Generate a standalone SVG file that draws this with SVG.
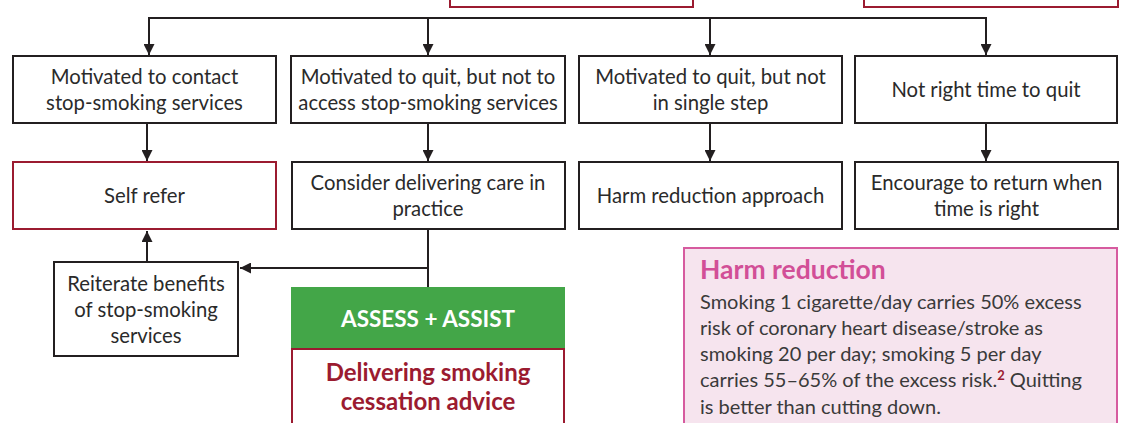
<svg xmlns="http://www.w3.org/2000/svg" width="1125" height="423" viewBox="0 0 1125 423">
<defs>
<marker id="ah" viewBox="0 0 10 10" refX="10" refY="5" markerWidth="11" markerHeight="11" markerUnits="userSpaceOnUse" orient="auto">
<path d="M0,0 L10,5 L0,10 z" fill="#231f20"/>
</marker>
<style>
.box{fill:#fff;stroke:#231f20;stroke-width:2}
.rbox{fill:#fff;stroke:#9b1b30;stroke-width:2}
.t{font-family:Lato,"Open Sans","Liberation Sans",sans-serif;font-size:20.3px;fill:#2a2a2a;text-anchor:middle}
.ln{fill:none;stroke:#231f20;stroke-width:2}
.ar{fill:none;stroke:#231f20;stroke-width:2;marker-end:url(#ah)}
.hb{font-family:Lato,"Open Sans","Liberation Sans",sans-serif;font-size:20px;fill:#3a3a3a}
.bf{font-family:Lato,"Open Sans","Liberation Sans",sans-serif;font-weight:bold;text-anchor:middle}
</style>
</defs>
<rect width="1125" height="423" fill="#fff"/>
<g id="top-left"><rect class="rbox" x="450" y="-20" width="243" height="27"/></g>
<g id="top-right"><rect class="rbox" x="864" y="-20" width="254" height="27"/></g>
<g id="connectors">
<path class="ln" d="M149,18 H986"/>
<path class="ar" d="M149,17 V55"/>
<path class="ar" d="M428,18 V55"/>
<path class="ar" d="M710,18 V55"/>
<path class="ar" d="M986,17 V55"/>
<path class="ar" d="M147,123 V161"/>
<path class="ar" d="M428,123 V161"/>
<path class="ar" d="M710,123 V161"/>
<path class="ar" d="M986,123 V161"/>
<path class="ln" d="M428,229 V287"/>
<path class="ar" d="M428,268 H240"/>
<path class="ar" d="M147,262 V231"/>
</g>
<g id="n1"><rect class="box" x="13" y="56" width="263" height="67"/><text class="t" x="144.5" y="84">Motivated to contact</text><text class="t" x="144.5" y="110">stop-smoking services</text></g>
<g id="n2"><rect class="box" x="291" y="56" width="274" height="67"/><text class="t" x="428" y="84">Motivated to quit, but not to</text><text class="t" x="428" y="110">access stop-smoking services</text></g>
<g id="n3"><rect class="box" x="579" y="56" width="263" height="67"/><text class="t" x="710.5" y="84">Motivated to quit, but not</text><text class="t" x="710.5" y="110">in single step</text></g>
<g id="n4"><rect class="box" x="855" y="56" width="262" height="67"/><text class="t" x="986" y="97">Not right time to quit</text></g>
<g id="n5"><rect class="rbox" x="13" y="162" width="263" height="67"/><text class="t" x="144.5" y="203">Self refer</text></g>
<g id="n6"><rect class="box" x="292" y="162" width="273" height="67"/><text class="t" x="428" y="190">Consider delivering care in</text><text class="t" x="428" y="216">practice</text></g>
<g id="n7"><rect class="box" x="579" y="162" width="263" height="67"/><text class="t" x="710.5" y="203">Harm reduction approach</text></g>
<g id="n8"><rect class="box" x="855" y="162" width="263" height="67"/><text class="t" x="986.5" y="190">Encourage to return when</text><text class="t" x="986.5" y="216">time is right</text></g>
<g id="n9"><rect class="box" x="54" y="262" width="184" height="94"/><text class="t" x="146" y="291">Reiterate benefits</text><text class="t" x="146" y="317">of stop-smoking</text><text class="t" x="146" y="343">services</text></g>
<g id="n10">
<rect x="291" y="287" width="274" height="62" fill="#43a648"/>
<text class="bf" x="428" y="327" font-size="22.5" fill="#fff">ASSESS + ASSIST</text>
<rect class="rbox" x="292" y="349" width="272" height="90"/>
<text class="bf" x="428" y="381" font-size="24" fill="#9b1b30">Delivering smoking</text>
<text class="bf" x="428" y="410" font-size="24" fill="#9b1b30">cessation advice</text>
</g>
<g id="harm">
<rect x="684" y="248" width="433" height="190" fill="#f6e4ee" stroke="#d65b9f" stroke-width="2"/>
<text x="700" y="279" font-family="Lato,'Open Sans','Liberation Sans',sans-serif" font-size="26.5" font-weight="bold" fill="#d24f97">Harm reduction</text>
<text class="hb" x="700" y="309">Smoking 1 cigarette/day carries 50% excess</text>
<text class="hb" x="700" y="335">risk of coronary heart disease/stroke as</text>
<text class="hb" x="700" y="361">smoking 20 per day; smoking 5 per day</text>
<text class="hb" x="700" y="387">carries 55–65% of the excess risk.<tspan font-size="13" font-weight="bold" fill="#9b1b30" dy="-7">2</tspan><tspan dy="7"> Quitting</tspan></text>
<text class="hb" x="700" y="414">is better than cutting down.</text>
</g>
</svg>
